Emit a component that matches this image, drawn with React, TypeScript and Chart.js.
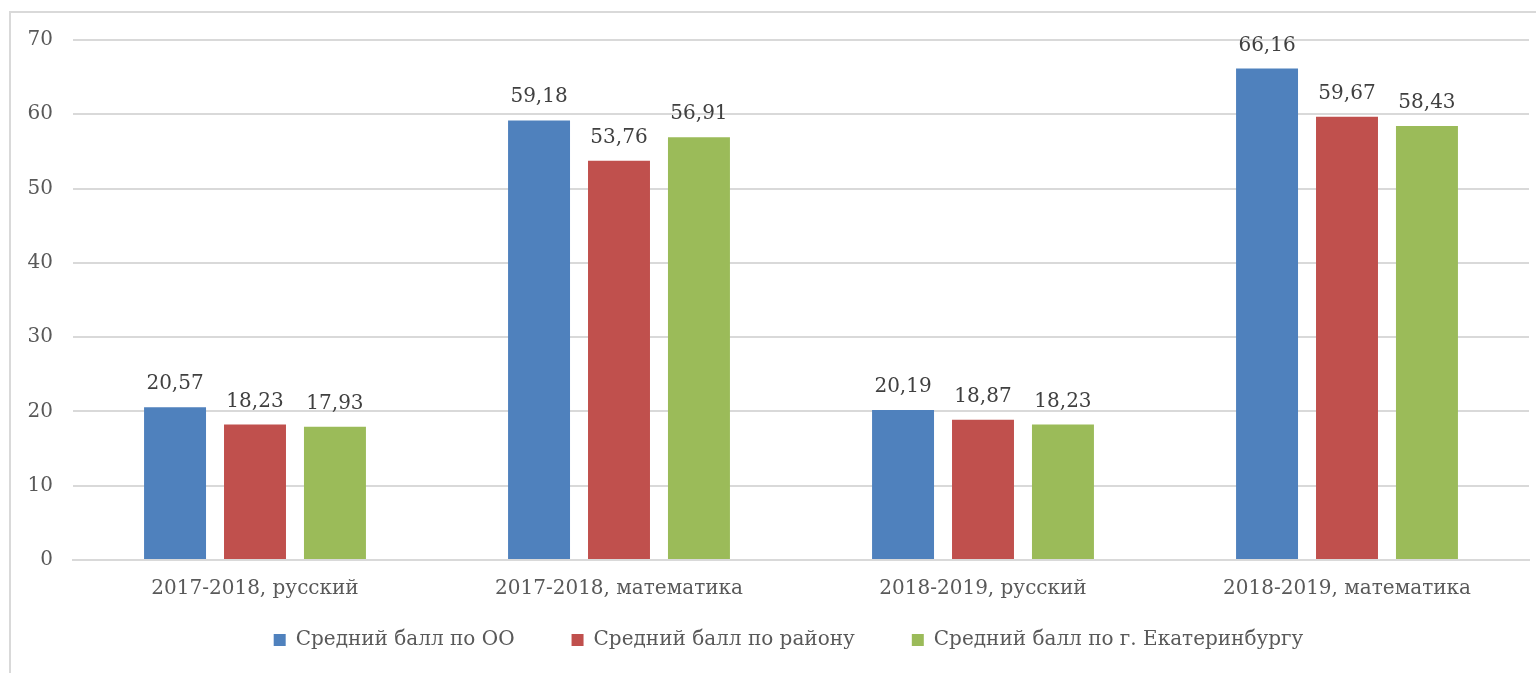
import React, { useEffect, useRef } from "react";
import { Chart, registerables } from "chart.js";

Chart.register(...registerables);

const categories = [
  "2017-2018, русский",
  "2017-2018, математика",
  "2018-2019, русский",
  "2018-2019, математика",
];
const seriesNames = [
  "Средний балл по ОО",
  "Средний балл по району",
  "Средний балл по г. Екатеринбургу",
];
const valuesOO = [20.57, 59.18, 20.19, 66.16];
const valuesDistrict = [18.23, 53.76, 18.87, 59.67];
const valuesCity = [17.93, 56.91, 18.23, 58.43];
const yTicks = [0, 10, 20, 30, 40, 50, 60, 70];
const colors = ["#4F81BD", "#C0504D", "#9BBB59"];

const FONT = "'DejaVu Serif', serif";
const FS = 20;
const LEGEND_PAD = 57;

const dataLabelPlugin = {
  id: "dataLabels",
  afterDatasetsDraw(chart: any) {
    const ctx = chart.ctx;
    ctx.save();
    ctx.font = `${FS}px ${FONT}`;
    ctx.fillStyle = "#404040";
    ctx.textAlign = "center";
    ctx.textBaseline = "alphabetic";
    chart.data.datasets.forEach((ds: any, i: number) => {
      const meta = chart.getDatasetMeta(i);
      meta.data.forEach((el: any, j: number) => {
        const v = ds.data[j] as number;
        ctx.fillText(v.toFixed(2).replace(".", ","), el.x, el.y - 18);
      });
    });
    ctx.restore();
  },
};

const legendPlacePlugin = {
  id: "legendPlace",
  afterLayout(chart: any) {
    const lg = chart.legend;
    if (!lg) return;
    const top = 640 - LEGEND_PAD - FS / 2;
    lg.top = top;
    lg.bottom = top + LEGEND_PAD + FS + 20;
    lg.height = lg.bottom - lg.top;
    lg.left += 24;
    lg.right += 24;
  },
};

export default function App() {
  const ref = useRef<HTMLCanvasElement>(null);
  useEffect(() => {
    if (!ref.current) return;
    const chart = new Chart(ref.current, {
      type: "bar",
      data: {
        labels: categories,
        datasets: [valuesOO, valuesDistrict, valuesCity].map((d, i) => ({
          label: seriesNames[i],
          data: d,
          backgroundColor: colors[i],
          borderWidth: 0,
          categoryPercentage: 0.659,
          barPercentage: 0.775,
        })),
      },
      options: {
        animation: false,
        responsive: false,
        maintainAspectRatio: false,
        layout: { padding: { left: 0, right: 7, top: 40, bottom: 5 } },
        plugins: {
          legend: {
            position: "bottom",
            maxHeight: 50,
            labels: {
              boxWidth: 12,
              boxHeight: 12,
              padding: LEGEND_PAD,
              color: "#595959",
              font: { family: FONT, size: FS },
            },
          },
          tooltip: { enabled: false },
        },
        scales: {
          x: {
            grid: { display: false, drawTicks: false },
            border: { display: true, color: "#D9D9D9", width: 2 },
            ticks: {
              padding: 17,
              color: "#595959",
              font: { family: FONT, size: FS },
            },
          },
          y: {
            min: 0,
            max: 70,
            afterBuildTicks: (s: any) => {
              s.ticks = yTicks.map((v) => ({ value: v }));
            },
            grid: { color: "#D9D9D9", lineWidth: 2, drawTicks: false },
            border: { display: false },
            ticks: {
              padding: 20,
              color: "#595959",
              font: { family: FONT, size: FS },
            },
            afterFit: (s: any) => {
              s.width = 73;
            },
          },
        },
      },
      plugins: [dataLabelPlugin, legendPlacePlugin],
    });
    return () => chart.destroy();
  }, []);
  return (
    <div
      style={{
        position: "fixed",
        left: 0,
        top: 0,
        width: 1536,
        height: 673,
        overflow: "hidden",
        background: "#fff",
      }}
    >
      <div
        style={{
          position: "absolute",
          left: 9,
          top: 11,
          width: 1700,
          height: 800,
          border: "2px solid #D9D9D9",
        }}
      />
      <canvas
        ref={ref}
        width={1536}
        height={673}
        style={{ position: "absolute", left: 0, top: 0, width: 1536, height: 673 }}
      />
    </div>
  );
}
